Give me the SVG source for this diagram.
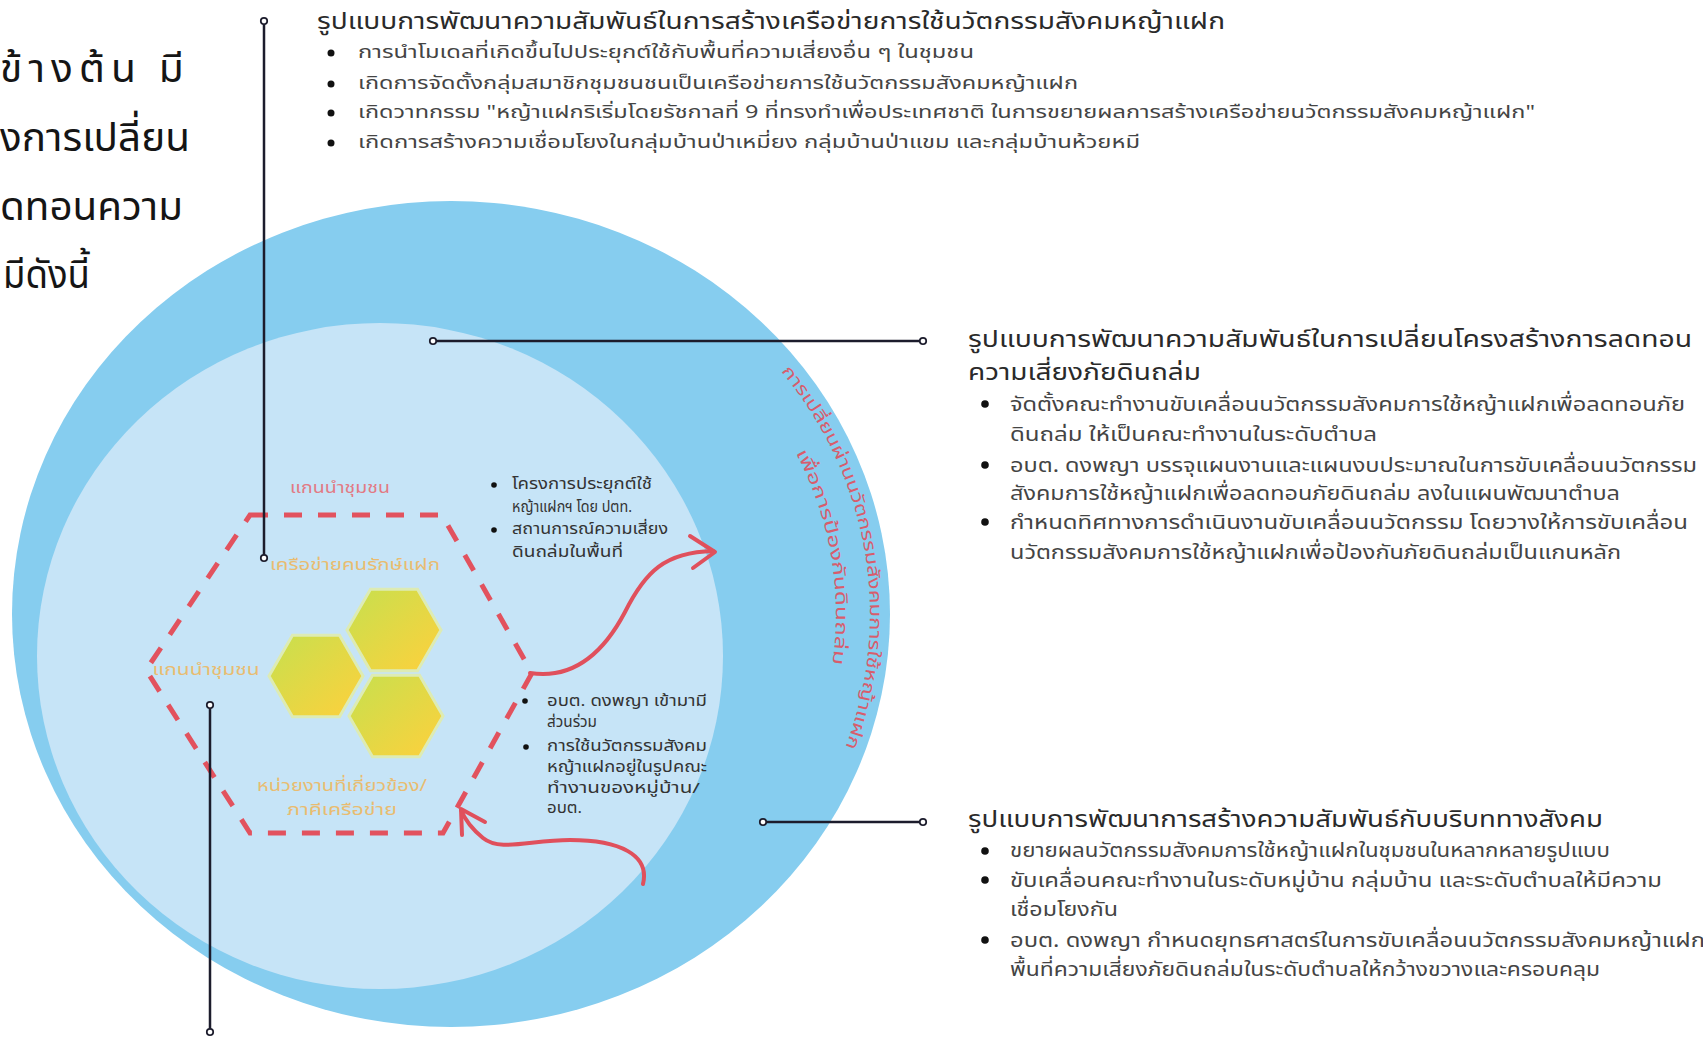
<svg xmlns="http://www.w3.org/2000/svg" width="1703" height="1038" viewBox="0 0 1703 1038">
<defs>
<style>
text{font-family:"Noto Sans Thai","Noto Sans","DejaVu Sans",sans-serif;}
.intro{font-size:40px;fill:#151515;}
.title{font-size:23px;fill:#2a2a2a;}
.body{font-size:18px;fill:#444444;}
.body2{font-size:20px;fill:#444444;}
.note{font-size:15px;fill:#333333;}
.lblpink{font-size:16px;fill:#E27A84;text-anchor:middle;}
.lblgold{font-size:16px;fill:#E9BC70;text-anchor:middle;}
.ring{font-size:17px;fill:#D85C6C;text-anchor:middle;}
.dot{fill:#111111;}
.conn{stroke:#1c1c2c;stroke-width:2.5;fill:none;}
.arrow{stroke:#E0505C;stroke-width:4;fill:none;stroke-linecap:round;stroke-linejoin:round;}
.hex{stroke:#DDEBB4;stroke-width:3;}
</style>
<linearGradient id="hexgrad" x1="0" y1="0" x2="1" y2="1">
<stop offset="0" stop-color="#C6E04E"/>
<stop offset="1" stop-color="#FFD03C"/>
</linearGradient>
<marker id="pin" viewBox="-5 -5 10 10" markerWidth="10" markerHeight="10" markerUnits="userSpaceOnUse" refX="0" refY="0" orient="auto">
<circle r="3.2" fill="#ffffff" stroke="#1c1c2c" stroke-width="1.8"/>
</marker>
<path id="ringpath1" d="M709,303.5 A419,394 0 0 1 798.4,834.3"/>
<path id="ringpath2" d="M677.3,321.1 A385,362 0 0 1 762.5,826.8"/>
</defs>

<rect width="1703" height="1038" fill="#ffffff"/>

<g id="outer-circle">
<ellipse cx="451" cy="614" rx="439" ry="413" fill="#86CDEF"/>
</g>
<g id="inner-circle">
<ellipse cx="380" cy="656" rx="343" ry="333" fill="#C6E4F7"/>
</g>

<g id="ring-label">
<text class="ring"><textPath href="#ringpath1" startOffset="50%" textLength="400" lengthAdjust="spacingAndGlyphs">การเปลี่ยนผ่านนวัตกรรมสังคมการใช้หญ้าแฝก</textPath></text>
<text class="ring"><textPath href="#ringpath2" startOffset="50%" textLength="218" lengthAdjust="spacingAndGlyphs">เพื่อการป้องกันดินถล่ม</textPath></text>
</g>

<g id="hex-cluster">
<polygon class="hex" fill="url(#hexgrad)" points="269,676 292.5,635.3 339.5,635.3 363,676 339.5,716.7 292.5,716.7"/>
<polygon class="hex" fill="url(#hexgrad)" points="347,630 370.5,589.3 417.5,589.3 441,630 417.5,670.7 370.5,670.7"/>
<polygon class="hex" fill="url(#hexgrad)" points="349,716 372.5,675.3 419.5,675.3 443,716 419.5,756.7 372.5,756.7"/>
</g>

<g id="hex-labels">
<text class="lblpink" x="340" y="493" textLength="100" lengthAdjust="spacingAndGlyphs">แกนนำชุมชน</text>
<text class="lblgold" x="355" y="570" textLength="170" lengthAdjust="spacingAndGlyphs">เครือข่ายคนรักษ์แฝก</text>
<text class="lblgold" x="206" y="675" textLength="107" lengthAdjust="spacingAndGlyphs">แกนนำชุมชน</text>
<text class="lblgold" x="342" y="791" textLength="170" lengthAdjust="spacingAndGlyphs">หน่วยงานที่เกี่ยวข้อง/</text>
<text class="lblgold" x="342" y="815" textLength="110" lengthAdjust="spacingAndGlyphs">ภาคีเครือข่าย</text>
</g>

<g id="dashed-hexagon">
<polygon points="250,515 442,515 532,673 443,833 250,833 146,670" fill="none" stroke="#E2525E" stroke-width="5" stroke-dasharray="18 16"/>
</g>

<g id="notes-a">
<circle class="dot" cx="494" cy="485" r="2.8"/>
<circle class="dot" cx="494" cy="530" r="2.8"/>
<text class="note" x="512" y="489" textLength="140" lengthAdjust="spacingAndGlyphs">โครงการประยุกต์ใช้</text>
<text class="note" x="512" y="512" textLength="120" lengthAdjust="spacingAndGlyphs">หญ้าแฝกฯ โดย ปตท.</text>
<text class="note" x="512" y="534" textLength="156" lengthAdjust="spacingAndGlyphs">สถานการณ์ความเสี่ยง</text>
<text class="note" x="512" y="557" textLength="111" lengthAdjust="spacingAndGlyphs">ดินถล่มในพื้นที่</text>
</g>

<g id="notes-b">
<circle class="dot" cx="525" cy="701" r="2.8"/>
<circle class="dot" cx="526" cy="747" r="2.8"/>
<text class="note" x="547" y="706" textLength="160" lengthAdjust="spacingAndGlyphs">อบต. ดงพญา เข้ามามี</text>
<text class="note" x="547" y="727" textLength="50" lengthAdjust="spacingAndGlyphs">ส่วนร่วม</text>
<text class="note" x="547" y="751" textLength="160" lengthAdjust="spacingAndGlyphs">การใช้นวัตกรรมสังคม</text>
<text class="note" x="547" y="772" textLength="160" lengthAdjust="spacingAndGlyphs">หญ้าแฝกอยู่ในรูปคณะ</text>
<text class="note" x="547" y="793" textLength="153" lengthAdjust="spacingAndGlyphs">ทำงานของหมู่บ้าน/</text>
<text class="note" x="547" y="813" textLength="35" lengthAdjust="spacingAndGlyphs">อบต.</text>
</g>

<g id="arrows">
<path class="arrow" d="M530,673 C575,680 605,650 625,612 C645,572 665,552 713,551"/>
<polyline class="arrow" points="690,536 715,552 693,568"/>
<path class="arrow" d="M643,884 C650,855 620,840 570,840 C530,840 500,852 483,838 C472,829 465,820 461,810"/>
<polyline class="arrow" points="485,822 461,809 462,835"/>
</g>

<g id="intro-text">
<text class="intro" x="0" y="82" letter-spacing="6" textLength="190" lengthAdjust="spacingAndGlyphs">ข้างต้น มี</text>
<text class="intro" x="0" y="151" textLength="190" lengthAdjust="spacingAndGlyphs">งการเปลี่ยน</text>
<text class="intro" x="0" y="220" textLength="183" lengthAdjust="spacingAndGlyphs">ดทอนความ</text>
<text class="intro" x="3" y="288" textLength="87" lengthAdjust="spacingAndGlyphs">มีดังนี้</text>
</g>

<g id="block-network">
<text class="title" x="317" y="29" textLength="908" lengthAdjust="spacingAndGlyphs">รูปแบบการพัฒนาความสัมพันธ์ในการสร้างเครือข่ายการใช้นวัตกรรมสังคมหญ้าแฝก</text>
<circle class="dot" cx="331" cy="53" r="3.5"/>
<circle class="dot" cx="331" cy="84" r="3.5"/>
<circle class="dot" cx="331" cy="113" r="3.5"/>
<circle class="dot" cx="331" cy="143" r="3.5"/>
<text class="body" x="358" y="58" textLength="616" lengthAdjust="spacingAndGlyphs">การนำโมเดลที่เกิดขึ้นไปประยุกต์ใช้กับพื้นที่ความเสี่ยงอื่น ๆ ในชุมชน</text>
<text class="body" x="358" y="89" textLength="720" lengthAdjust="spacingAndGlyphs">เกิดการจัดตั้งกลุ่มสมาชิกชุมชนชนเป็นเครือข่ายการใช้นวัตกรรมสังคมหญ้าแฝก</text>
<text class="body" x="358" y="118" textLength="1177" lengthAdjust="spacingAndGlyphs">เกิดวาทกรรม "หญ้าแฝกริเริ่มโดยรัชกาลที่ 9 ที่ทรงทำเพื่อประเทศชาติ ในการขยายผลการสร้างเครือข่ายนวัตกรรมสังคมหญ้าแฝก"</text>
<text class="body" x="358" y="148" textLength="782" lengthAdjust="spacingAndGlyphs">เกิดการสร้างความเชื่อมโยงในกลุ่มบ้านป่าเหมี่ยง กลุ่มบ้านป่าแขม และกลุ่มบ้านห้วยหมี</text>
</g>

<g id="block-structure">
<text class="title" x="968" y="347" textLength="724" lengthAdjust="spacingAndGlyphs">รูปแบบการพัฒนาความสัมพันธ์ในการเปลี่ยนโครงสร้างการลดทอน</text>
<text class="title" x="968" y="380" textLength="233" lengthAdjust="spacingAndGlyphs">ความเสี่ยงภัยดินถล่ม</text>
<circle class="dot" cx="985" cy="404" r="3.8"/>
<circle class="dot" cx="985" cy="465" r="3.8"/>
<circle class="dot" cx="985" cy="522" r="3.8"/>
<text class="body2" x="1010" y="411" textLength="675" lengthAdjust="spacingAndGlyphs">จัดตั้งคณะทำงานขับเคลื่อนนวัตกรรมสังคมการใช้หญ้าแฝกเพื่อลดทอนภัย</text>
<text class="body2" x="1010" y="441" textLength="367" lengthAdjust="spacingAndGlyphs">ดินถล่ม ให้เป็นคณะทำงานในระดับตำบล</text>
<text class="body2" x="1010" y="472" textLength="687" lengthAdjust="spacingAndGlyphs">อบต. ดงพญา บรรจุแผนงานและแผนงบประมาณในการขับเคลื่อนนวัตกรรม</text>
<text class="body2" x="1010" y="500" textLength="610" lengthAdjust="spacingAndGlyphs">สังคมการใช้หญ้าแฝกเพื่อลดทอนภัยดินถล่ม ลงในแผนพัฒนาตำบล</text>
<text class="body2" x="1010" y="529" textLength="678" lengthAdjust="spacingAndGlyphs">กำหนดทิศทางการดำเนินงานขับเคลื่อนนวัตกรรม โดยวางให้การขับเคลื่อน</text>
<text class="body2" x="1010" y="559" textLength="611" lengthAdjust="spacingAndGlyphs">นวัตกรรมสังคมการใช้หญ้าแฝกเพื่อป้องกันภัยดินถล่มเป็นแกนหลัก</text>
</g>

<g id="block-social">
<text class="title" x="968" y="827" textLength="635" lengthAdjust="spacingAndGlyphs">รูปแบบการพัฒนาการสร้างความสัมพันธ์กับบริบททางสังคม</text>
<circle class="dot" cx="985" cy="851" r="3.8"/>
<circle class="dot" cx="985" cy="880" r="3.8"/>
<circle class="dot" cx="985" cy="940" r="3.8"/>
<text class="body2" x="1010" y="857" textLength="600" lengthAdjust="spacingAndGlyphs">ขยายผลนวัตกรรมสังคมการใช้หญ้าแฝกในชุมชนในหลากหลายรูปแบบ</text>
<text class="body2" x="1010" y="887" textLength="652" lengthAdjust="spacingAndGlyphs">ขับเคลื่อนคณะทำงานในระดับหมู่บ้าน กลุ่มบ้าน และระดับตำบลให้มีความ</text>
<text class="body2" x="1010" y="916" textLength="108" lengthAdjust="spacingAndGlyphs">เชื่อมโยงกัน</text>
<text class="body2" x="1010" y="947" textLength="702" lengthAdjust="spacingAndGlyphs">อบต. ดงพญา กำหนดยุทธศาสตร์ในการขับเคลื่อนนวัตกรรมสังคมหญ้าแฝกใ</text>
<text class="body2" x="1010" y="976" textLength="590" lengthAdjust="spacingAndGlyphs">พื้นที่ความเสี่ยงภัยดินถล่มในระดับตำบลให้กว้างขวางและครอบคลุม</text>
</g>

<g id="connectors">
<path class="conn" d="M264,21 V558" marker-start="url(#pin)" marker-end="url(#pin)"/>
<path class="conn" d="M433,341 H923" marker-start="url(#pin)" marker-end="url(#pin)"/>
<path class="conn" d="M763,822 H923" marker-start="url(#pin)" marker-end="url(#pin)"/>
<path class="conn" d="M210,705 V1032" marker-start="url(#pin)" marker-end="url(#pin)"/>
</g>
</svg>
